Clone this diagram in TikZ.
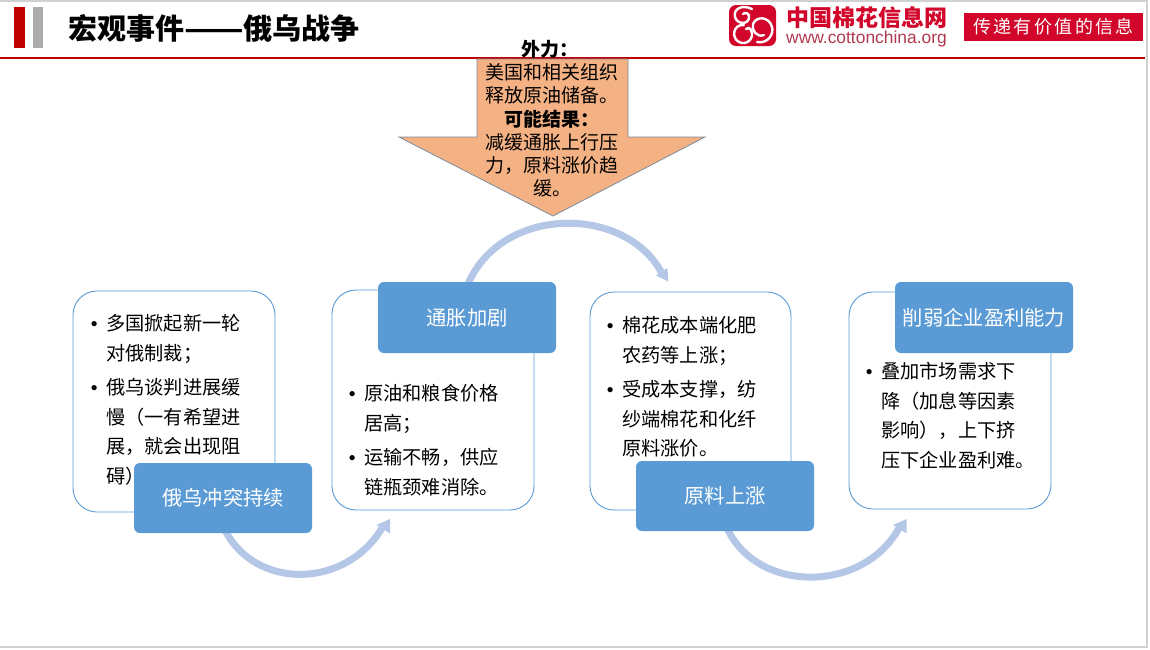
\documentclass[tikz,border=0pt]{standalone}
\usepackage{fontspec}
\setmainfont{Noto Sans CJK SC}
\newfontfamily\latinfont{Liberation Sans}
\definecolor{cardblue}{HTML}{5B9BD5}
\definecolor{arcblue}{HTML}{B4C7E7}
\definecolor{arroworange}{HTML}{F4B183}
\definecolor{arrowedge}{HTML}{7C8C9C}
\definecolor{hdrred}{HTML}{C00000}
\definecolor{logored}{HTML}{D2062A}
\definecolor{urlcolor}{HTML}{B03A50}
\tikzset{
 cardbox/.style={draw=cardblue,line width=0.9pt,fill=white,rounded corners=24pt},
 labelbox/.style={fill=cardblue,rounded corners=6pt,inner sep=0pt,text=white,font=\fontsize{20.3}{24}\selectfont},
 bodytext/.style={anchor=north west,inner sep=0pt,align=left,font=\fontsize{19.2}{29.7}\selectfont},
 arrowtext/.style={inner sep=0pt,align=center,font=\fontsize{19}{23.2}\selectfont},
 arcshaft/.style={draw=arcblue,line width=7pt},
 archead/.style={fill=arcblue,draw=none},
 swirl/.style={draw=white,line width=2.4pt,line cap=round},
}
\newcommand{\bul}{\llap{{\latinfont •}\hspace{8.6pt}}}
\begin{document}
\begin{tikzpicture}[x=1pt,y=-1pt]
\useasboundingbox (0,0) rectangle (1150,649);
\fill[white] (0,0) rectangle (1150,649);
% page frame
\draw[black!18,line width=1.2pt] (0,1) -- (1147,1) -- (1147,647) -- (0,647);
% header
\fill[hdrred] (14,7) rectangle (25,48);
\fill[black!32] (33,7) rectangle (43,48);
\node[anchor=west,inner sep=0pt,font=\fontsize{29}{32}\selectfont\bfseries] (title) at (68,28) {宏观事件\scalebox{1.2}[1]{——}俄乌战争};
\fill[hdrred] (0,57) rectangle (1145,58.6);
% logo
\fill[logored,rounded corners=7pt] (729,5) rectangle (776,46);
\draw[swirl] (752,9) .. controls (742,4) and (733,9) .. (735,17) .. controls (737,25) and (750,25) .. (749,16) .. controls (748.5,13) and (745,12) .. (743,14);
\draw[swirl] (744,25) .. controls (733,24) and (731,38) .. (739,42) .. controls (747,46) and (755,38) .. (751,30) .. controls (750,28) and (748,27) .. (746,29);
\draw[swirl] (757,42) .. controls (768,44) and (774,34) .. (772,27) .. controls (769,16) and (756,16) .. (753,24) .. controls (751,30) and (757,38) .. (764,35);
% logo text
\node[anchor=west,inner sep=0pt,text=logored,font=\fontsize{23}{26}\selectfont\bfseries] (logoname) at (786,17.5) {中国棉花信息网};
\node[anchor=west,inner sep=0pt,text=urlcolor,font=\latinfont\fontsize{17.4}{20}\selectfont] (logourl) at (786,38.5) {www.cottonchina.org};
\node[fill=logored,minimum width=179pt,minimum height=28pt,inner sep=0pt,text=white,font=\fontsize{18}{20}\selectfont] (slogan) at (1053.5,27) {传\hspace{2.4pt}递\hspace{2.4pt}有\hspace{2.4pt}价\hspace{2.4pt}值\hspace{2.4pt}的\hspace{2.4pt}信\hspace{2.4pt}息};
% big arrow
\node[anchor=center,inner sep=0pt,font=\fontsize{19}{20}\selectfont\bfseries] (force) at (549.5,49) {外力：};
\draw[arrowedge,fill=arroworange,line width=0.8pt,line join=miter] (477,59) -- (628,59) -- (628,137) -- (705,137) -- (553,216) -- (399,137) -- (477,137) -- cycle;
\node[arrowtext] (forcetext) at (552,130.5) {美国和相关组织\\释放原油储备。\\{\bfseries 可能结果：}\\减缓通胀上行压\\力，原料涨价趋\\缓。};
% cards
\draw[cardbox] (73,291) rectangle (275,512);
\draw[cardbox] (332,290) rectangle (534,510);
\draw[cardbox] (590,292) rectangle (791,510);
\draw[cardbox] (849,292) rectangle (1051,509);
% card text
\node[bodytext] (t1a) at (106,314) {\bul 多国掀起新一轮\\对俄制裁；};
\node[bodytext] (t1b) at (106,378) {\bul 俄乌谈判进展缓\\慢（一有希望进\\展，就会出现阻\\碍）};
\node[bodytext] (t2a) at (364,384.5) {\bul 原油和粮食价格\\居高；};
\node[bodytext] (t2b) at (364,448.5) {\bul 运输不畅，供应\\链瓶颈难消除。};
\node[bodytext] (t3a) at (622,316) {\bul 棉花成本端化肥\\农药等上涨；};
\node[bodytext] (t3b) at (622,380) {\bul 受成本支撑，纺\\纱端棉花和化纤\\原料涨价。};
\node[bodytext] (t4) at (881,362) {\bul 叠加市场需求下\\降（加息等因素\\影响），上下挤\\压下企业盈利难。};
% curved arrows (start beneath the label boxes drawn next)
\draw[arcshaft] (225,530) .. controls (255,589.5) and (345,589.5) .. (382,528);
\fill[archead] (376.5,525) -- (390,519) -- (390,533.5) -- cycle;
\draw[arcshaft] (468,284) .. controls (502,205) and (625,205) .. (661.5,272.5);
\fill[archead] (656,275.5) -- (667.3,268) -- (668.5,281.5) -- cycle;
\draw[arcshaft] (727,528) .. controls (757,593.5) and (863,593.5) .. (899,528);
\fill[archead] (893,525) -- (906.7,519) -- (906.7,533.5) -- cycle;
% label boxes
\node[labelbox,minimum width=178pt,minimum height=70pt] (l1) at (223,498) {俄乌冲突持续};
\node[labelbox,minimum width=178pt,minimum height=71pt] (l2) at (467,317.5) {通胀加剧};
\node[labelbox,minimum width=178pt,minimum height=70pt] (l3) at (725,496) {原料上涨};
\node[labelbox,minimum width=178pt,minimum height=71pt] (l4) at (984,317.5) {削弱企业盈利能力};
\end{tikzpicture}
\end{document}
